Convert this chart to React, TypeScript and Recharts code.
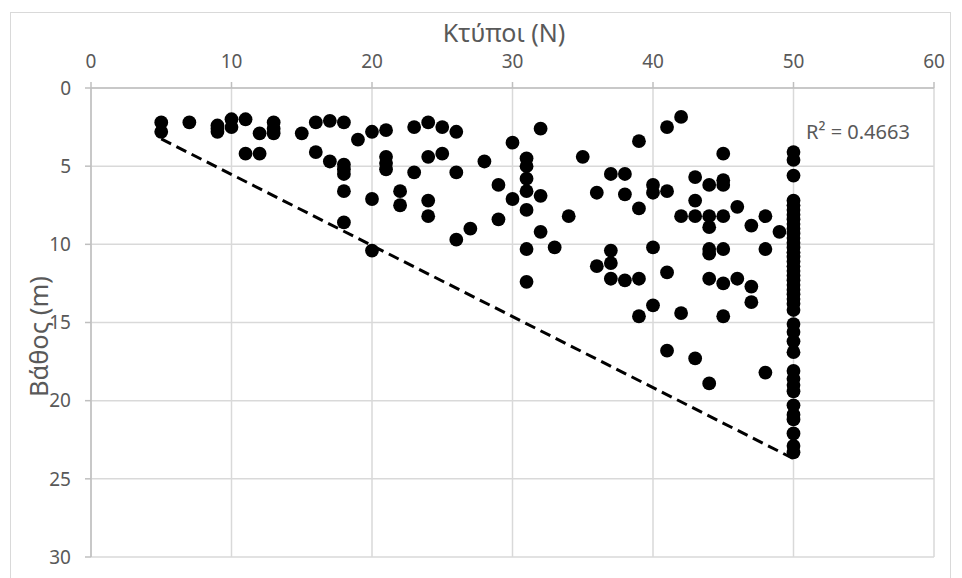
import {
  CartesianGrid,
  ReferenceLine,
  Scatter,
  ScatterChart,
  XAxis,
  YAxis,
} from "recharts";

// blow counts (N) and depths (m) for the scattered SPT points
const blowCounts = [
  5, 5, 7, 9, 9, 9, 10, 10, 11, 11, 12, 12, 13, 13, 13, 15, 16, 16, 17, 17,
  18, 18, 18, 18, 18, 18, 19, 20, 20, 20, 21, 21, 21, 21, 22, 22, 23, 23,
  24, 24, 24, 24, 25, 25, 26, 26, 26, 27, 28, 29, 29, 30, 30,
  31, 31, 31, 31, 31, 31, 31, 32, 32, 32, 33, 34, 35, 36, 36,
  37, 37, 37, 37, 38, 38, 38, 39, 39, 39, 39, 40, 40, 40, 40,
  41, 41, 41, 41, 42, 42, 42, 43, 43, 43, 43,
  44, 44, 44, 44, 44, 44, 44, 45, 45, 45, 45, 45, 45, 45,
  46, 46, 47, 47, 47, 48, 48, 48, 49,
];
const depths = [
  2.2, 2.8, 2.2, 2.4, 2.6, 2.8, 2.0, 2.5, 2.0, 4.2, 2.9, 4.2, 2.2, 2.6, 2.9, 2.9, 2.2, 4.1, 2.1, 4.7,
  2.2, 4.9, 5.2, 5.5, 6.6, 8.6, 3.3, 2.8, 7.1, 10.4, 2.7, 4.4, 4.8, 5.2, 6.6, 7.5, 2.5, 5.4,
  2.2, 4.4, 7.2, 8.2, 2.5, 4.2, 2.8, 5.4, 9.7, 9.0, 4.7, 6.2, 8.4, 3.5, 7.1,
  4.5, 5.0, 5.8, 6.6, 7.8, 10.3, 12.4, 2.6, 6.9, 9.2, 10.2, 8.2, 4.4, 6.7, 11.4,
  5.5, 10.4, 11.2, 12.2, 5.5, 6.8, 12.3, 3.4, 7.7, 12.2, 14.6, 6.2, 6.7, 10.2, 13.9,
  2.5, 6.6, 11.8, 16.8, 1.85, 8.2, 14.4, 5.7, 7.2, 8.2, 17.3,
  6.2, 8.2, 8.9, 10.3, 10.6, 12.2, 18.9, 4.2, 5.9, 6.2, 8.2, 10.3, 12.5, 14.6,
  7.6, 12.2, 8.8, 12.7, 13.7, 8.2, 10.3, 18.2, 9.2,
];

// refusal (N = 50) column
const refusalN = 50;
const refusalDepths = [
  4.1, 4.6, 5.6, 7.2, 7.5, 7.8, 8.1, 8.4, 8.7, 9.0, 9.3, 9.6, 9.9, 10.2, 10.5,
  10.8, 11.1, 11.4, 11.7, 12.0, 12.3, 12.6, 12.9, 13.2, 13.5, 13.8, 14.2,
  15.1, 15.6, 16.2, 16.9, 18.1, 18.6, 19.0, 19.4, 20.3, 20.9, 21.2, 22.1,
  22.9, 23.3,
];

const xTicks = [0, 10, 20, 30, 40, 50, 60];
const yTicks = [0, 5, 10, 15, 20, 25, 30];

// linear trendline
const trendSlope = 0.4545;
const trendIntercept = 0.985;
const trendFrom = 5;
const trendTo = 50;
const rSquared = "0.4663";

const points = [
  ...blowCounts.map((n, i) => ({ n, depth: depths[i] })),
  ...refusalDepths.map((d) => ({ n: refusalN, depth: d })),
];

const font = "'Noto Sans', 'Open Sans', sans-serif";
const tickStyle = { fill: "#595959", fontSize: 19, fontFamily: font };

const Dot = (props: any) => (
  <circle cx={props.cx} cy={props.cy} r={6.9} fill="#000" />
);

export default function App() {
  return (
    <div
      style={{
        position: "absolute",
        left: 0,
        top: 0,
        width: 962,
        height: 578,
        background: "#fff",
        overflow: "hidden",
      }}
    >
      <svg
        width={962}
        height={578}
        style={{ position: "absolute", left: 0, top: 0 }}
      >
        <rect
          x={10.5}
          y={12.5}
          width={940}
          height={600}
          fill="none"
          stroke="#d9d9d9"
          strokeWidth={1}
        />
      </svg>
      <div style={{ position: "absolute", left: 0, top: 0 }}>
        <ScatterChart
          width={962}
          height={578}
          margin={{ top: 58, left: 51, right: 28, bottom: 21 }}
        >
          <CartesianGrid stroke="#d9d9d9" strokeWidth={1.5} />
          <XAxis
            type="number"
            dataKey="n"
            orientation="top"
            domain={[0, 60]}
            ticks={xTicks}
            height={30}
            stroke="#bfbfbf"
            strokeWidth={1.5}
            tickSize={6}
            tickMargin={14}
            tick={tickStyle}
            interval={0}
          />
          <YAxis
            type="number"
            dataKey="depth"
            reversed
            domain={[0, 30]}
            ticks={yTicks}
            width={40}
            stroke="#bfbfbf"
            strokeWidth={1.5}
            tickSize={6}
            tickMargin={14}
            tick={tickStyle}
            interval={0}
          />
          <Scatter
            data={points}
            fill="#000"
            shape={Dot}
            isAnimationActive={false}
          />
          <ReferenceLine
            segment={[
              { x: trendFrom, y: trendSlope * trendFrom + trendIntercept },
              { x: trendTo, y: trendSlope * trendTo + trendIntercept },
            ]}
            stroke="#000"
            strokeWidth={3}
            strokeDasharray="11 6"
          />
        </ScatterChart>
      </div>
      <svg
        width={962}
        height={578}
        style={{ position: "absolute", left: 0, top: 0, pointerEvents: "none" }}
      >
        <text
          x={504}
          y={42}
          textAnchor="middle"
          fontSize={25}
          fontFamily={font}
          fill="#595959"
        >
          Κτύποι (N)
        </text>
        <text
          x={48}
          y={397}
          textAnchor="start"
          fontSize={25.5}
          fontFamily={font}
          fill="#595959"
          transform="rotate(-90, 48, 397)"
        >
          Βάθος (m)
        </text>
        <text
          x={806}
          y={139}
          fontSize={20}
          fontFamily={font}
          fill="#595959"
        >
          R² = {rSquared}
        </text>
      </svg>
    </div>
  );
}
